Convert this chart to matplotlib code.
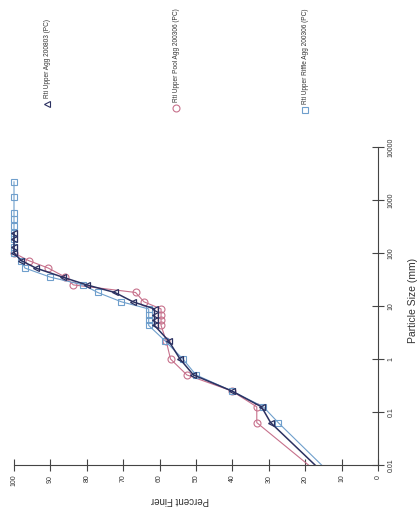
import matplotlib
matplotlib.use("Agg")
import matplotlib.pyplot as plt
from matplotlib.lines import Line2D
from matplotlib.ticker import FixedLocator, NullLocator

plt.rcParams['font.family'] = ['Liberation Sans', 'DejaVu Sans']

agg_size = [240, 180, 130, 100, 72, 52, 35, 25, 18, 12, 8.8, 6.8, 5.4, 4.3, 2.2, 1, 0.5, 0.25, 0.125, 0.063, 0.01]
agg_pct = [100, 100, 100, 100, 98, 94, 86.6, 80, 72.3, 67.3, 61.4, 61.4, 61.4, 61.4, 57.5, 54.4, 50.7, 40.2, 32, 29.5, 17.3]

pool_size = [100, 72, 52, 35, 25, 18, 12, 8.8, 6.8, 5.4, 4.3, 2.2, 1, 0.5, 0.25, 0.125, 0.063, 0.01]
pool_pct = [100, 96, 90.6, 85.9, 83.7, 66.6, 64.3, 59.6, 59.6, 59.6, 59.6, 58.2, 57, 52.5, 40.2, 33.3, 33.3, 19.1]

riffle_size = [2200, 1150, 580, 430, 320, 240, 180, 130, 100, 72, 52, 35, 25, 18, 12, 8.8, 6.8, 5.4, 4.3, 2.2, 1, 0.5, 0.25, 0.125, 0.063, 0.01]
riffle_pct = [100, 100, 100, 100, 100, 100, 100, 100, 100, 98, 97, 90, 81, 77, 70.5, 63, 63, 63, 63, 58.5, 53.6, 50, 40.2, 31.5, 27.4, 15.5]

size_ticks = [0.01, 0.1, 1, 10, 100, 1000, 10000]
size_labels = ['0.01', '0.1', '1', '10', '100', '1000', '10000']
pct_ticks = [0, 10, 20, 30, 40, 50, 60, 70, 80, 90, 100]

legend_labels = ['Rti Upper Agg 200803 (PC)',
                 'Rti Upper Pool Agg 200306 (PC)',
                 'Rti Upper Riffle Agg 200306 (PC)']

c_agg = '#2b3161'
c_pool = '#c7718c'
c_riffle = '#6f9fcc'

W, H = 419, 516
fig = plt.figure(figsize=(W / 100, H / 100), dpi=100)
ax = fig.add_axes([14 / W, 1 - 465 / H, 364 / W, 318 / H])

# chart is drawn turned a quarter turn: percent runs right-to-left, size runs up
ax.plot(pool_pct, pool_size, color=c_pool, lw=0.8, marker='o', ms=5, mfc='none',
        mew=0.8, markevery=list(range(len(pool_pct) - 1)), clip_on=False)
ax.plot(riffle_pct, riffle_size, color=c_riffle, lw=0.8, marker='s', ms=5, mfc='none',
        mew=0.8, markevery=list(range(len(riffle_pct) - 1)), clip_on=False)
ax.plot(agg_pct, agg_size, color=c_agg, lw=1.1, marker='<', ms=4.5, mfc='none',
        mew=0.9, markevery=list(range(len(agg_pct) - 1)), clip_on=False)

ax.set_yscale('log')
ax.set_ylim(0.01, 10000)
ax.set_xlim(100, 0)

ax.yaxis.set_major_locator(FixedLocator(size_ticks))
ax.yaxis.set_minor_locator(NullLocator())
ax.set_yticklabels(size_labels)
ax.set_xticks(pct_ticks)
ax.set_xticklabels([str(t) for t in pct_ticks])

ax.yaxis.tick_right()
for s in ['left', 'top']:
    ax.spines[s].set_visible(False)
for s in ['right', 'bottom']:
    ax.spines[s].set_linewidth(0.8)
    ax.spines[s].set_color('#444444')

ax.tick_params(axis='both', direction='inout', length=8, width=0.8, color='#444444',
               labelsize=5, labelcolor='#333333', pad=3)
for lab in ax.get_xticklabels():
    lab.set_rotation(90)
for lab in ax.get_yticklabels():
    lab.set_rotation(90)
    lab.set_va('center')

fig.text(180 / W, 1 - 500 / H, 'Percent Finer', rotation=180, ha='center', va='center',
         fontsize=7, color='#333333')
fig.text(413 / W, 1 - 300 / H, 'Particle Size (mm)', rotation=90, ha='center', va='center',
         fontsize=7.5, color='#333333')

# legend, turned with the chart
leg = [(47, 104, '<', c_agg), (176, 108, 'o', c_pool), (305, 110, 's', c_riffle)]
for (lx, ly, m, c), txt in zip(leg, legend_labels):
    fig.add_artist(Line2D([lx / W], [1 - ly / H], marker=m, color=c, mfc='none',
                          ms=5, mew=0.8, transform=fig.transFigure))
    fig.text(lx / W, 1 - (ly - 6) / H, txt, rotation=90, ha='center', va='bottom',
             fontsize=4.7, color='#333333')

fig.savefig('out.png', dpi=100)
